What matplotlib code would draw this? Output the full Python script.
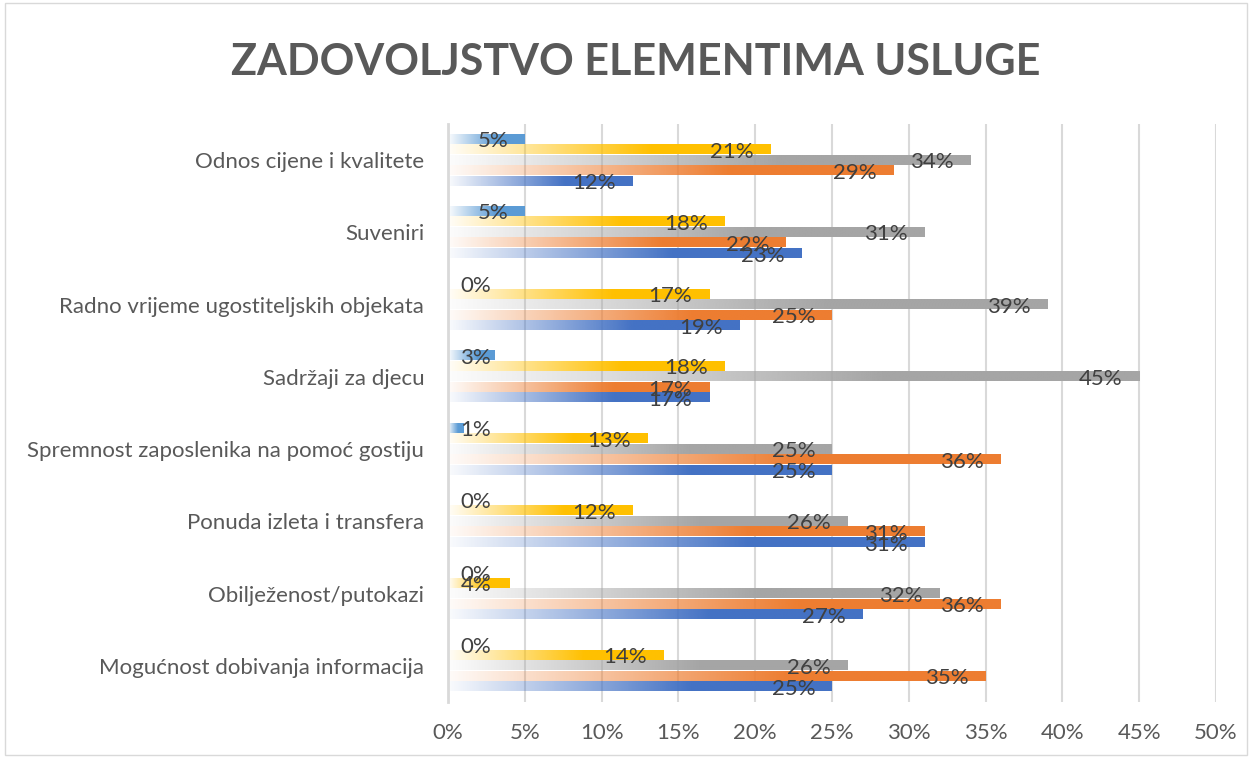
import numpy as np
import matplotlib.pyplot as plt
from matplotlib.colors import to_rgb
from matplotlib.patches import Rectangle

# Categories (top to bottom) and the five series values in percent
categories = ['Odnos cijene i kvalitete', 'Suveniri', 'Radno vrijeme ugostiteljskih objekata',
              'Sadržaji za djecu', 'Spremnost zaposlenika na pomoć gostiju',
              'Ponuda izleta i transfera', 'Obilježenost/putokazi',
              'Mogućnost dobivanja informacija']
serija_1 = [5, 5, 0, 3, 1, 0, 0, 0]
serija_2 = [21, 18, 17, 18, 13, 12, 4, 14]
serija_3 = [34, 31, 39, 45, 25, 26, 32, 26]
serija_4 = [29, 22, 25, 17, 36, 31, 36, 35]
serija_5 = [12, 23, 19, 17, 25, 31, 27, 25]
series = [serija_1, serija_2, serija_3, serija_4, serija_5]
colors = ['#5B9BD5', '#FFC000', '#A5A5A5', '#ED7D31', '#4472C4']
xticks = [0, 5, 10, 15, 20, 25, 30, 35, 40, 45, 50]

plt.rcParams['font.family'] = ['Lato', 'DejaVu Sans']

fig = plt.figure(figsize=(12.52, 7.58), dpi=100)
ax = fig.add_axes([0.3578, 0.0739, 0.6134, 0.7625])

# frame around whole chart
fig.patches.append(Rectangle((0.004, 0.004), 0.992, 0.992, transform=fig.transFigure,
                             fill=False, edgecolor='#D9D9D9', linewidth=1))

pitch = 0.146
height = 0.125
y = np.arange(len(categories))

for k, (vals, col) in enumerate(zip(series, colors)):
    off = (k - 2) * pitch
    bars = ax.barh(y + off, vals, height=height, color='none', edgecolor='none', zorder=2)
    rgb = np.array(to_rgb(col))
    for b, v in zip(bars, vals):
        if v <= 0:
            continue
        n = 200
        t = np.linspace(0, 1, n)
        a = np.clip(0.03 + t / 0.65, 0, 1)
        img = np.ones((1, n, 4))
        img[0, :, :3] = rgb
        img[0, :, 3] = a
        y0 = b.get_y()
        ax.imshow(img, extent=(0, v, y0 + height, y0), aspect='auto',
                  interpolation='bilinear', zorder=2)
    # data labels
    for yi, v in zip(y + off, vals):
        if v <= 4:
            ax.annotate(f'{v}%', (0, yi), xytext=(9, -1.5), textcoords='offset points',
                        ha='left', va='center', fontsize=16, color='#404040', zorder=3)
        else:
            ax.annotate(f'{v}%', (v, yi), xytext=(-12, -1.5), textcoords='offset points',
                        ha='right', va='center', fontsize=16, color='#404040', zorder=3)

ax.set_xlim(0, 50)
ax.set_ylim(len(categories) - 0.5, -0.5)
ax.set_xticks(xticks)
ax.set_xticklabels([f'{t}%' for t in xticks])
ax.set_yticks(y)
ax.set_yticklabels(categories)
ax.tick_params(axis='x', length=0, pad=15, labelsize=16, labelcolor='#595959')
ax.tick_params(axis='y', length=0, pad=17, labelsize=16, labelcolor='#595959')
ax.grid(axis='x', color='#D9D9D9', linewidth=1.5, zorder=0)
ax.set_axisbelow(True)
for s in ['top', 'right', 'bottom']:
    ax.spines[s].set_visible(False)
ax.spines['left'].set_color('#D9D9D9')
ax.spines['left'].set_linewidth(2)

fig.text(0.508, 0.918, 'ZADOVOLJSTVO ELEMENTIMA USLUGE', ha='center', va='center',
         fontsize=31, fontweight='bold', color='#595959')

fig.savefig('out.png', dpi=100)
